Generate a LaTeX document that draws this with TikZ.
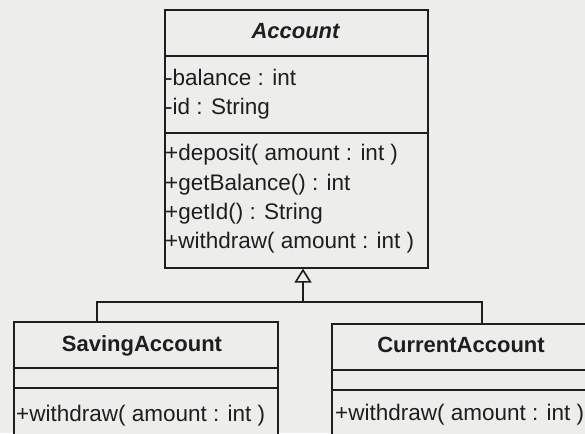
\documentclass[tikz,border=0pt]{standalone}
\usepackage{fontspec}
\setmainfont{Liberation Sans}
\usetikzlibrary{arrows.meta}
\definecolor{paper}{RGB}{237,237,235}
\definecolor{ink}{RGB}{30,30,30}
\tikzset{
  classbox/.style={draw=ink, line width=1.6pt, fill=paper, anchor=north west, inner sep=0pt},
  divider/.style={draw=ink, line width=1.6pt},
  member/.style={anchor=base west, inner sep=0pt, text=ink, font=\fontsize{22.5}{26}\selectfont},
  classname/.style={anchor=base, inner sep=0pt, text=ink, font=\fontsize{22}{26}\selectfont\bfseries},
  link/.style={draw=ink, line width=1.6pt},
  inherits/.style={link, -{Triangle[open, length=14pt, width=17pt, line width=1.6pt]}},
}
\begin{document}
\begin{tikzpicture}[x=1pt, y=-1pt]
  % page and background
  \useasboundingbox (0,0) rectangle (585,433);
  \fill[paper] (0,0) rectangle (585,433);
  \clip (0,0) rectangle (585,433);

  % superclass
  \node[classbox, minimum width=263pt, minimum height=258pt] (acc) at (164,9) {};
  \draw[divider] (164,56) -- (427,56);
  \draw[divider] (164,133) -- (427,133);
  \node[classname, font=\fontsize{22}{26}\selectfont\bfseries\itshape] (accname) at (295.5,39) {Account};
  \node[member] (a1) at (165,85) {-balance : int};
  \node[member] (a2) at (165,114) {-id : String};
  \node[member] (m1) at (165,160) {+deposit( amount : int )};
  \node[member] (m2) at (165,190) {+getBalance() : int};
  \node[member] (m3) at (165,219) {+getId() : String};
  \node[member] (m4) at (165,248) {+withdraw( amount : int )};

  % subclasses
  \node[classbox, minimum width=264pt, minimum height=140pt] (sav) at (13,321) {};
  \draw[divider] (13,368) -- (277,368);
  \draw[divider] (13,388) -- (277,388);
  \node[classname] (savname) at (142,351) {SavingAccount};
  \node[member] (s1) at (16,421) {+withdraw( amount : int )};

  \node[classbox, minimum width=260pt, minimum height=140pt] (cur) at (331,323) {};
  \draw[divider] (331,370) -- (591,370);
  \draw[divider] (331,390) -- (591,390);
  \node[classname] (curname) at (461,352) {CurrentAccount};
  \node[member] (c1) at (335,420) {+withdraw( amount : int )};

  % generalization
  \coordinate (hub) at (303,302);
  \draw[link] (sav.north -| 97,0) |- (hub) -| (cur.north -| 482,0);
  \draw[inherits] (hub) -- (acc.south -| hub);
\end{tikzpicture}
\end{document}
